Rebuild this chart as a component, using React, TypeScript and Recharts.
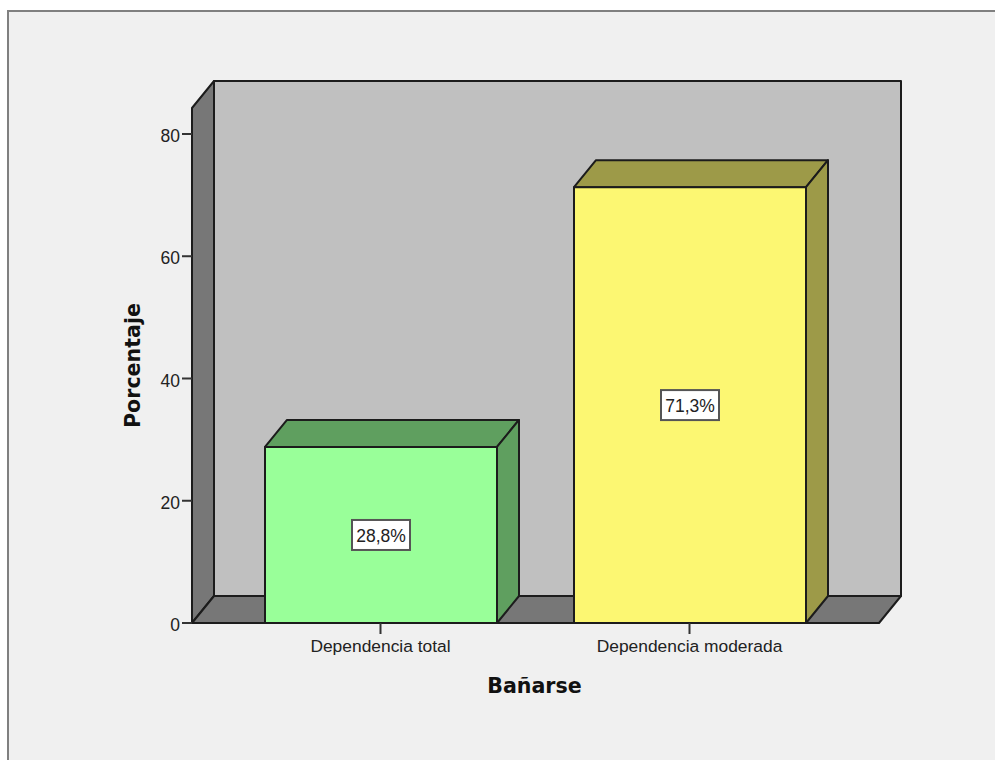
import React from "react";
import {
  BarChart,
  Bar,
  XAxis,
  YAxis,
  LabelList,
  ReferenceArea,
} from "recharts";

const categories: string[] = ["Dependencia total", "Dependencia moderada"];
const percentages: number[] = [28.8, 71.3];
const yTicks: number[] = [0, 20, 40, 60, 80];
const yMax = 84.25;

const frontColors = ["#99FF99", "#FCF772"];
const shadeColors = ["#5F9F5F", "#9D9A48"];

// offset of the back plane, gives the fake 3D look
const DX = 22;
const DY = -27;
const EDGE = "#1c1c1c";
// category padding on the x axis, the walls have to span it too
const PAD_LEFT = 34;
const PAD_RIGHT = 35;

const data = categories.map((name, i) => ({ name, pct: percentages[i] }));

const points = (list: number[][]) => list.map((p) => p.join(",")).join(" ");

const Walls = (props: any) => {
  const { y, height } = props;
  const x = props.x - PAD_LEFT;
  const width = props.width + PAD_LEFT + PAD_RIGHT;
  const right = x + width;
  const bottom = y + height;
  return (
    <g stroke={EDGE} strokeWidth={2} strokeLinejoin="round">
      <rect x={x + DX} y={y + DY} width={width} height={height} fill="#C0C0C0" />
      <polygon
        points={points([[x, y], [x + DX, y + DY], [x + DX, bottom + DY], [x, bottom]])}
        fill="#777777"
      />
      <polygon
        points={points([[x, bottom], [x + DX, bottom + DY], [right + DX, bottom + DY], [right, bottom]])}
        fill="#777777"
      />
    </g>
  );
};

const Box3D = (props: any) => {
  const { x, y, width, height, index } = props;
  const right = x + width;
  const bottom = y + height;
  return (
    <g stroke={EDGE} strokeWidth={2} strokeLinejoin="round">
      <polygon
        points={points([[x, y], [x + DX, y + DY], [right + DX, y + DY], [right, y]])}
        fill={shadeColors[index]}
      />
      <polygon
        points={points([[right, y], [right + DX, y + DY], [right + DX, bottom + DY], [right, bottom]])}
        fill={shadeColors[index]}
      />
      <rect x={x} y={y} width={width} height={height} fill={frontColors[index]} />
    </g>
  );
};

const PctLabel = (props: any) => {
  const { x, y, width, height, value } = props;
  const cx = x + width / 2;
  const cy = y + height / 2;
  return (
    <g>
      <rect x={cx - 29} y={cy - 15} width={58} height={30} fill="#FFFFFF" stroke="#555555" strokeWidth={2} />
      <text
        x={cx}
        y={cy + 1}
        textAnchor="middle"
        dominantBaseline="central"
        fontFamily="Liberation Sans"
        fontSize={17.5}
        fill="#222222"
      >
        {value.toFixed(1).replace(".", ",")}%
      </text>
    </g>
  );
};

export default function App() {
  return (
    <div style={{ position: "absolute", left: 0, top: 0, width: 995, height: 760, background: "#FFFFFF", overflow: "hidden" }}>
      <div
        style={{
          position: "absolute",
          left: 7,
          top: 10,
          width: 995,
          height: 760,
          background: "#F0F0F0",
          borderTop: "2px solid #808080",
          borderLeft: "2px solid #808080",
        }}
      />
      <div style={{ position: "absolute", left: 0, top: 0 }}>
        <BarChart
          width={995}
          height={760}
          data={data}
          margin={{ top: 108, right: 116, bottom: 77, left: 122 }}
          barSize={232}
        >
          <XAxis
            dataKey="name"
            axisLine={false}
            tickSize={11}
            tickMargin={6}
            tick={{ fontFamily: "Liberation Sans", fontSize: 17.4, fill: "#222222" }}
            tickLine={{ stroke: "#333333", strokeWidth: 2 }}
            padding={{ left: PAD_LEFT, right: PAD_RIGHT }}
            height={60}
            interval={0}
            label={{
              value: "Bañarse",
              position: "insideBottom",
              offset: -10,
              dx: -1,
              style: { fontFamily: "DejaVu Sans", fontWeight: "bold", fontSize: 20.6, fill: "#111111" },
            }}
          />
          <YAxis
            type="number"
            domain={[0, yMax]}
            ticks={yTicks}
            axisLine={false}
            tickSize={10}
            width={70}
            tick={{ fontFamily: "Liberation Sans", fontSize: 17.5, fill: "#222222", dy: 2 }}
            tickLine={{ stroke: "#333333", strokeWidth: 2 }}
            label={{
              value: "Porcentaje",
              angle: -90,
              position: "insideLeft",
              offset: 11,
              style: { textAnchor: "middle", fontFamily: "DejaVu Sans", fontWeight: "bold", fontSize: 20.6, fill: "#111111" },
            }}
          />
          <ReferenceArea y1={0} y2={yMax} shape={<Walls />} />
          <Bar dataKey="pct" isAnimationActive={false} shape={<Box3D />}>
            <LabelList dataKey="pct" content={<PctLabel />} />
          </Bar>
        </BarChart>
      </div>
    </div>
  );
}
